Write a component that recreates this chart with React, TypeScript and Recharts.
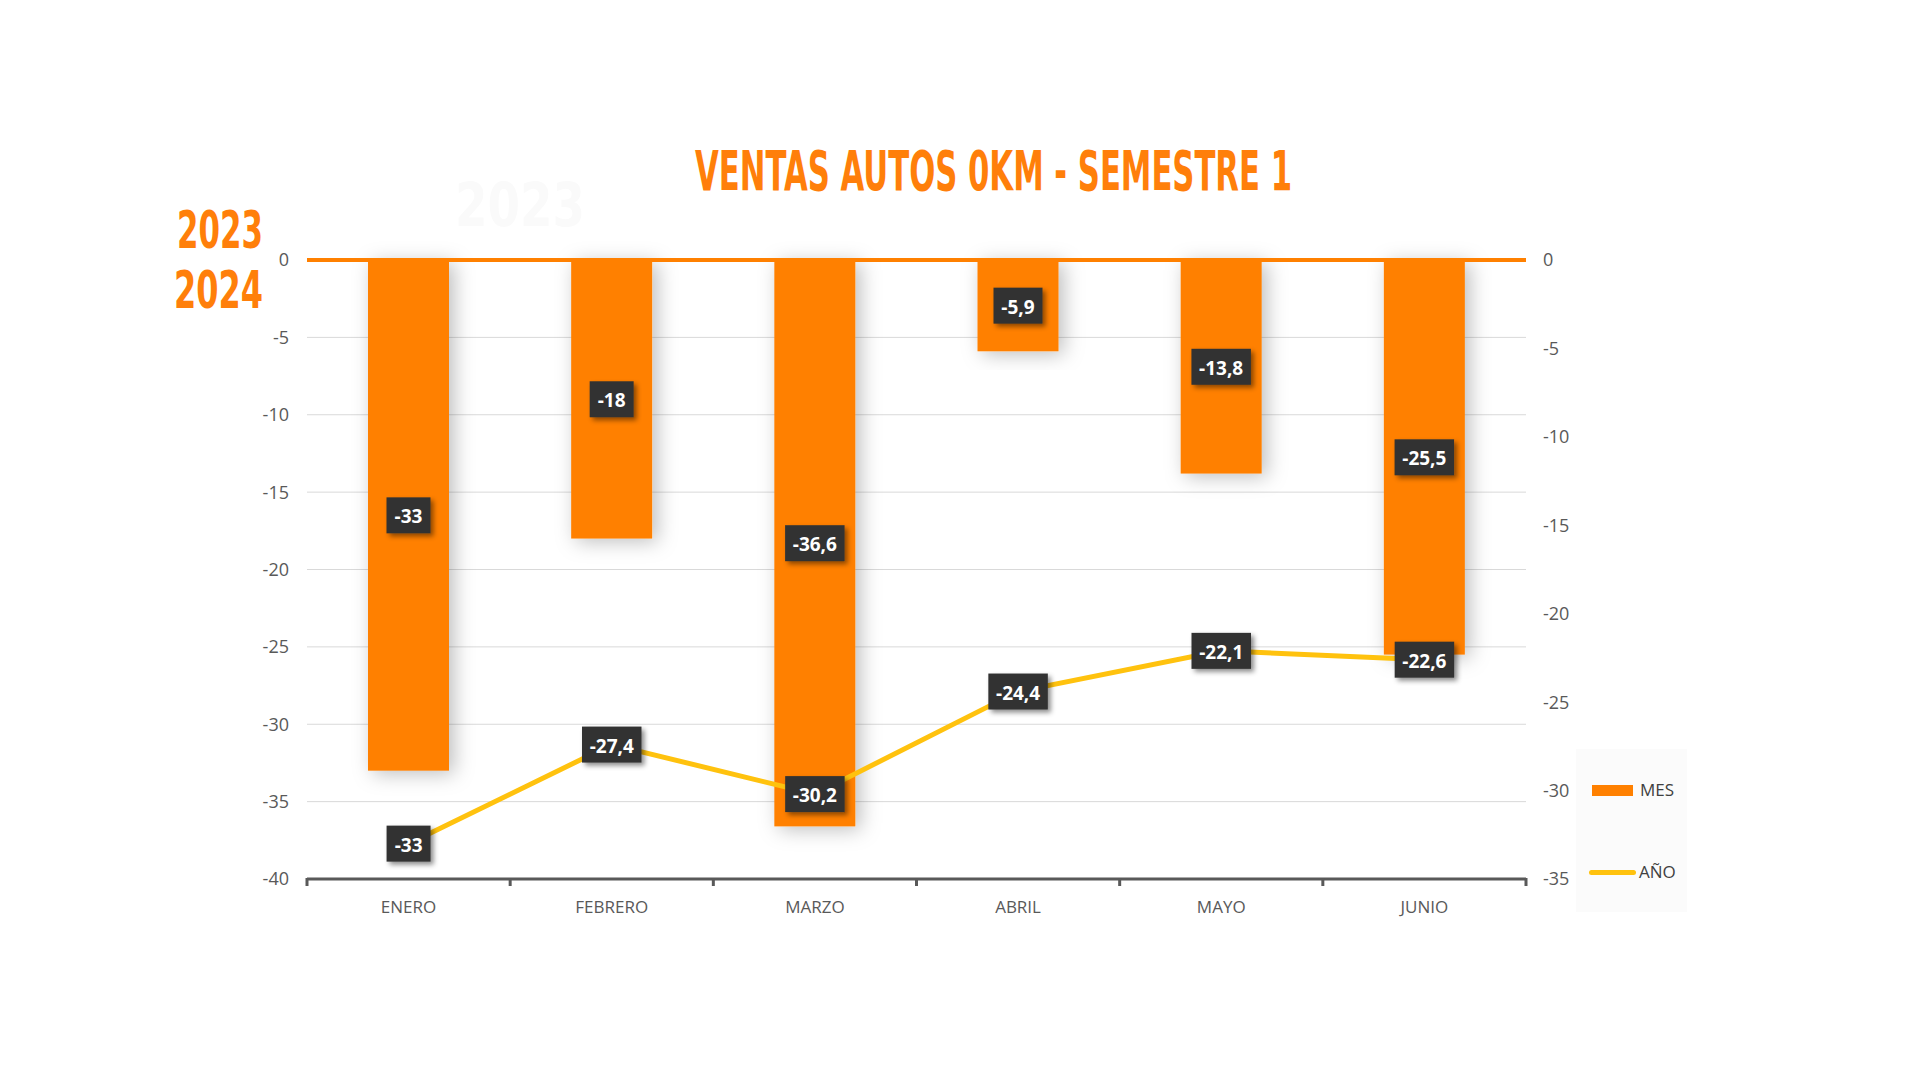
import React from 'react';
import { ComposedChart, Bar, Line, XAxis, YAxis, CartesianGrid, ReferenceLine, LabelList } from 'recharts';

// data
const months = ['ENERO', 'FEBRERO', 'MARZO', 'ABRIL', 'MAYO', 'JUNIO'];
const mesValues = [-33, -18, -36.6, -5.9, -13.8, -25.5];
const anioValues = [-33, -27.4, -30.2, -24.4, -22.1, -22.6];
const leftTicks = [0, -5, -10, -15, -20, -25, -30, -35, -40];
const rightTicks = [0, -5, -10, -15, -20, -25, -30, -35];

const data = months.map((m, i) => ({ month: m, mes: mesValues[i], anio: anioValues[i] }));

const ORANGE = '#FF8000';
const YELLOW = '#FFC20E';
const GREY_TEXT = '#595959';
const TITLE_FONT = "'DejaVu Sans', sans-serif";

// layout
const W = 1920;
const H = 1080;
const PLOT_LEFT = 307;
const PLOT_RIGHT = 1526;
const PLOT_TOP = 260;
const PLOT_BOTTOM = 879;
const AXIS_W = 60;
const XAXIS_H = 60;
const HALF_BAND = (PLOT_RIGHT - PLOT_LEFT) / months.length / 2;

const charW = (c: string) => (c === '-' ? 7 : c === ',' ? 5 : 10.5);

const ValueBox = (props: any) => {
  const vb = props.viewBox ?? props;
  const cx = vb.x + (vb.width ?? 0) / 2;
  const cy = vb.y + (vb.height ?? 0) / 2;
  const txt = String(props.value).replace('.', ',');
  const w = txt.split('').reduce((s, c) => s + charW(c), 0) + 16;
  const h = 36;
  return (
    <g>
      <rect x={cx - w / 2} y={cy - h / 2} width={w} height={h} fill="#333333" filter="url(#boxShadow)" />
      <text
        x={cx}
        y={cy + 1}
        textAnchor="middle"
        dominantBaseline="central"
        fill="#ffffff"
        fontFamily="'Open Sans', sans-serif"
        fontWeight={700}
        fontSize={19}
      >
        {txt}
      </text>
    </g>
  );
};

const BarShape = (p: any) => {
  const y = Math.min(p.y, p.y + p.height);
  const h = Math.abs(p.height);
  return (
    <g filter="url(#barShadow)">
      <rect x={p.x} y={y} width={p.width} height={h} fill={ORANGE} />
    </g>
  );
};

const MonthTick = (props: any) => {
  const { x, y, payload, index } = props;
  const last = index === months.length - 1;
  return (
    <g>
      <line x1={x - HALF_BAND} x2={x - HALF_BAND} y1={y - 1} y2={y + 7} stroke={GREY_TEXT} strokeWidth={3} />
      {last && <line x1={x + HALF_BAND} x2={x + HALF_BAND} y1={y - 1} y2={y + 7} stroke={GREY_TEXT} strokeWidth={3} />}
      <text
        x={x}
        y={y + 27}
        textAnchor="middle"
        dominantBaseline="central"
        fill={GREY_TEXT}
        fontFamily="'Open Sans', sans-serif"
        fontSize={17}
      >
        {payload.value}
      </text>
    </g>
  );
};

// condensed display text: natural width squeezed horizontally to the target width
const Squeezed = ({ x, y, width, natural, size, fill, children }: any) => (
  <text
    transform={`translate(${x},${y}) scale(${width / natural},1)`}
    x={0}
    y={0}
    textLength={natural}
    lengthAdjust="spacingAndGlyphs"
    fontFamily={TITLE_FONT}
    fontWeight="bold"
    fontSize={size}
    fill={fill}
  >
    {children}
  </text>
);

const tickStyle = { fill: GREY_TEXT, fontFamily: "'Open Sans', sans-serif", fontSize: 18 };

export default function App() {
  return (
    <div style={{ position: 'absolute', left: 0, top: 0, width: W, height: H, background: '#ffffff', overflow: 'hidden' }}>
      <svg width={0} height={0} style={{ position: 'absolute' }}>
        <defs>
          <filter id="barShadow" x="-50%" y="-20%" width="200%" height="140%">
            <feDropShadow dx={5} dy={3} stdDeviation={10} floodColor="#000" floodOpacity={0.26} />
          </filter>
          <filter id="boxShadow" x="-30%" y="-30%" width="170%" height="180%">
            <feDropShadow dx={3} dy={3} stdDeviation={2.5} floodColor="#000" floodOpacity={0.45} />
          </filter>
        </defs>
      </svg>

      <ComposedChart
        width={W}
        height={H}
        data={data}
        margin={{ top: PLOT_TOP, left: PLOT_LEFT - AXIS_W, right: W - PLOT_RIGHT - AXIS_W, bottom: H - PLOT_BOTTOM - XAXIS_H }}
        barSize={81}
      >
        <CartesianGrid yAxisId="left" vertical={false} stroke="#d9d9d9" strokeWidth={1} />
        <XAxis
          dataKey="month"
          height={XAXIS_H}
          tickLine={false}
          tickSize={0}
          tickMargin={0}
          axisLine={{ stroke: GREY_TEXT, strokeWidth: 3 }}
          tick={<MonthTick />}
          interval={0}
        />
        <YAxis
          yAxisId="left"
          width={AXIS_W}
          domain={[-40, 0]}
          ticks={leftTicks}
          axisLine={false}
          tickLine={false}
          tickMargin={12}
          tick={tickStyle}
        />
        <YAxis
          yAxisId="right"
          orientation="right"
          width={AXIS_W}
          domain={[-35, 0]}
          ticks={rightTicks}
          axisLine={false}
          tickLine={false}
          tickMargin={11}
          tick={{ ...tickStyle, textAnchor: 'start' }}
        />
        <Bar yAxisId="left" dataKey="mes" name="MES" fill={ORANGE} shape={<BarShape />} isAnimationActive={false}>
          <LabelList dataKey="mes" content={<ValueBox />} />
        </Bar>
        <ReferenceLine yAxisId="left" y={0} stroke={ORANGE} strokeWidth={4} />
        <Line
          yAxisId="right"
          type="linear"
          dataKey="anio"
          name="AÑO"
          stroke={YELLOW}
          strokeWidth={5}
          dot={false}
          activeDot={false}
          isAnimationActive={false}
        >
          <LabelList dataKey="anio" content={<ValueBox />} />
        </Line>
      </ComposedChart>

      <svg width={W} height={H} style={{ position: 'absolute', left: 0, top: 0, pointerEvents: 'none' }}>
        <Squeezed x={455} y={226} width={130} natural={167} size={60} fill="#fafafa">2023</Squeezed>
        <Squeezed x={695} y={190} width={597} natural={900} size={56} fill="#FF7F0A">VENTAS AUTOS 0KM - SEMESTRE 1</Squeezed>
        <Squeezed x={177} y={248} width={86} natural={139} size={52} fill="#FF7F0A">2023</Squeezed>
        <Squeezed x={174} y={308} width={89} natural={139} size={52} fill="#FF7F0A">2024</Squeezed>
      </svg>

      <div
        style={{
          position: 'absolute',
          left: 1576,
          top: 749,
          width: 111,
          height: 163,
          background: '#fbfbfb',
          fontFamily: "'Open Sans', sans-serif",
          fontSize: 17,
          color: '#404040',
        }}
      >
        <div style={{ position: 'absolute', left: 16, top: 36, width: 41, height: 11, background: ORANGE }} />
        <div style={{ position: 'absolute', left: 64, top: 29, lineHeight: '24px' }}>MES</div>
        <div style={{ position: 'absolute', left: 13, top: 121, width: 47, height: 5, borderRadius: 3, background: YELLOW }} />
        <div style={{ position: 'absolute', left: 63, top: 111, lineHeight: '24px' }}>AÑO</div>
      </div>
    </div>
  );
}
